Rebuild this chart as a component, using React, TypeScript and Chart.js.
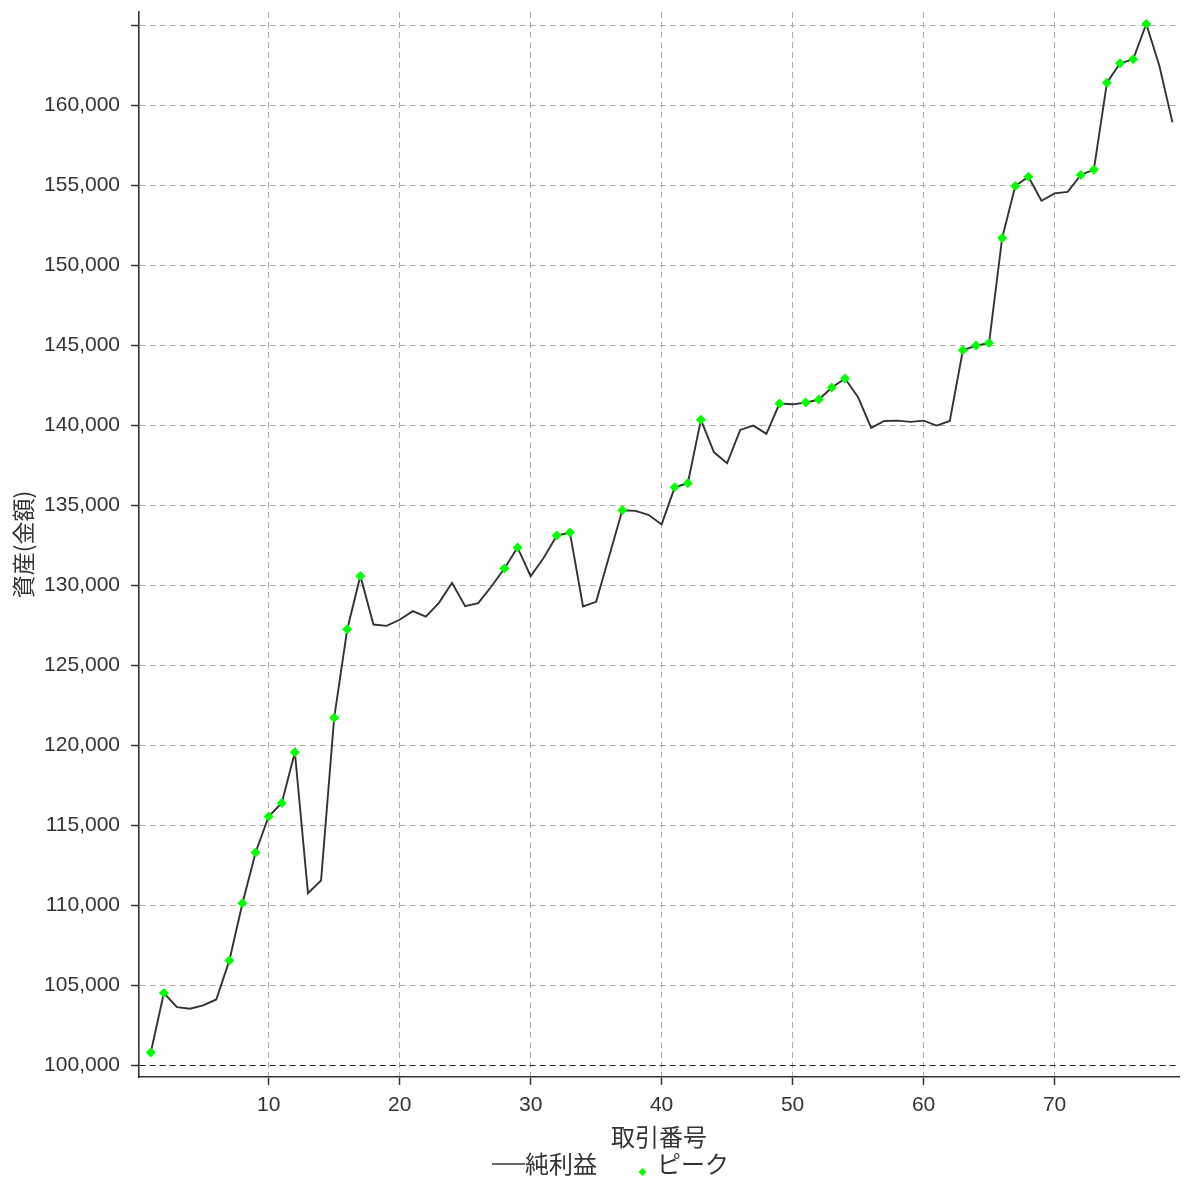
import React, { useEffect, useRef } from "react";
import { Chart, registerables } from "chart.js";

Chart.register(...registerables);

// ---- data ----
const tradeNumbers: number[] = Array.from({ length: 79 }, (_, i) => i + 1);
const netEquity: number[] = [
  100780, 104500, 103620, 103520, 103730, 104100, 106540, 110110, 113290, 115540,
  116380, 119560, 110750, 111540, 121710, 127250, 130580, 127540, 127460, 127840,
  128380, 128040, 128900, 130150, 128690, 128880, 129920, 131040, 132360, 130560,
  131710, 133100, 133290, 128670, 128960, 131830, 134690, 134650, 134400, 133800,
  136120, 136380, 140340, 138310, 137630, 139710, 139980, 139460, 141360, 141310,
  141420, 141610, 142360, 142920, 141750, 139840, 140270, 140290, 140210, 140290,
  139980, 140270, 144690, 144980, 145150, 151710, 154960, 155540, 154040, 154500,
  154590, 155650, 155980, 161420, 162630, 162880, 165090, 162480, 158940,
];
const peakTrades: number[] = [
  1, 2, 7, 8, 9, 10, 11, 12, 15, 16, 17, 28, 29, 32, 33, 37, 41, 42, 43, 49, 51,
  52, 53, 54, 63, 64, 65, 66, 67, 68, 72, 73, 74, 75, 76, 77,
];
const xTickValues: number[] = [10, 20, 30, 40, 50, 60, 70];
const yTickValues: number[] = [
  100000, 105000, 110000, 115000, 120000, 125000, 130000, 135000, 140000, 145000,
  150000, 155000, 160000, 165000,
];
const yTickLabelValues: number[] = [
  100000, 105000, 110000, 115000, 120000, 125000, 130000, 135000, 140000, 145000,
  150000, 155000, 160000,
];
const initialCapital = 100000;
const seriesLabels = ["純利益", "ピーク"];
const xTitle = "取引番号";
const yTitle = "資産(金額)";

const CJK = "'Noto Sans CJK JP', 'Noto Sans', sans-serif";
const LATIN = "'Liberation Sans', Arial, sans-serif";
const TEXT = "#333333";
const GRID = "#b3ad9f";

export default function App() {
  const ref = useRef<HTMLCanvasElement | null>(null);

  useEffect(() => {
    if (!ref.current) return;

    // legend icons
    const lineIcon = document.createElement("canvas");
    lineIcon.width = 72;
    lineIcon.height = 4;
    const lc = lineIcon.getContext("2d")!;
    lc.strokeStyle = "#333333";
    lc.lineWidth = 1.5;
    lc.beginPath();
    lc.moveTo(39, 2);
    lc.lineTo(72, 2);
    lc.stroke();

    const diaIcon = document.createElement("canvas");
    diaIcon.width = 52;
    diaIcon.height = 26;
    const dc = diaIcon.getContext("2d")!;
    dc.fillStyle = "#00ff00";
    const cx = 47.5, cy = 21, r = 4;
    dc.beginPath();
    dc.moveTo(cx, cy - r);
    dc.lineTo(cx + r, cy);
    dc.lineTo(cx, cy + r);
    dc.lineTo(cx - r, cy);
    dc.closePath();
    dc.fill();

    const lineData = tradeNumbers.map((t, i) => ({ x: t, y: netEquity[i] }));
    const peakData = peakTrades.map((t) => ({ x: t, y: netEquity[t - 1] }));

    const chart = new Chart(ref.current, {
      type: "line",
      data: {
        datasets: [
          {
            label: seriesLabels[0],
            data: lineData,
            borderColor: "#333333",
            borderWidth: 1.9,
            pointRadius: 0,
            tension: 0,
            fill: false,
            order: 1,
          },
          {
            label: seriesLabels[1],
            data: peakData,
            showLine: false,
            pointStyle: "rectRot",
            pointRadius: 5,
            pointBackgroundColor: "#00ff00",
            pointBorderWidth: 0,
            borderColor: "#00ff00",
            order: 0,
          },
        ],
      },
      options: {
        responsive: false,
        animation: false,
        devicePixelRatio: 1,
        layout: { padding: { top: 12, left: 10, right: 0, bottom: -6 } },
        plugins: {
          tooltip: { enabled: false },
          title: { display: false },
          legend: {
            position: "bottom",
            labels: {
              usePointStyle: true,
              pointStyleWidth: 48,
              padding: 0,
              color: TEXT,
              font: { family: CJK, size: 24 },
              generateLabels: () => [
                {
                  text: seriesLabels[0],
                  pointStyle: lineIcon as any,
                  fillStyle: "#333333",
                  strokeStyle: "#333333",
                  lineWidth: 0,
                  hidden: false,
                  datasetIndex: 0,
                  fontColor: TEXT,
                },
                {
                  text: seriesLabels[1],
                  pointStyle: diaIcon as any,
                  fillStyle: "#00ff00",
                  strokeStyle: "#00ff00",
                  lineWidth: 0,
                  hidden: false,
                  datasetIndex: 1,
                  fontColor: TEXT,
                },
              ],
            },
          },
        },
        scales: {
          x: {
            type: "linear",
            min: 0.1,
            max: 79.5,
            ticks: {
              color: TEXT,
              padding: 8,
              font: { family: LATIN, size: 21 },
              maxRotation: 0,
            },
            grid: {
              color: GRID,
              lineWidth: 1,
              drawTicks: true,
              tickLength: 8,
              tickColor: "#333333",
              tickWidth: 1.5,
            },
            border: { display: true, color: "#333333", width: 1.6, dash: [6, 4] },
            title: {
              display: true,
              text: xTitle,
              color: TEXT,
              font: { family: CJK, size: 24, lineHeight: 1 },
              padding: { top: 0, bottom: 3 },
            },
            afterBuildTicks: (s: any) => {
              s.ticks = xTickValues.map((v) => ({ value: v }));
            },
            afterFit: (s: any) => {
              s.height = 75;
              s.paddingLeft = 0;
              s.paddingRight = 0;
            },
          },
          y: {
            type: "linear",
            min: 99250,
            max: 165840,
            ticks: {
              color: TEXT,
              padding: 11,
              font: { family: LATIN, size: 21 },
              callback: (v: any) =>
                yTickLabelValues.includes(Number(v)) ? Number(v).toLocaleString("en-US") : "",
            },
            grid: {
              color: (c: any) => (c.tick && c.tick.value === initialCapital ? "#222222" : GRID),
              lineWidth: 1,
              drawTicks: true,
              tickLength: 8,
              tickColor: "#333333",
              tickWidth: 1.5,
            },
            border: { display: true, color: "#333333", width: 1.6, dash: [6, 4] },
            title: {
              display: true,
              text: yTitle,
              color: TEXT,
              font: { family: CJK, size: 23, lineHeight: 1 },
              padding: { top: 2, bottom: 0 },
            },
            afterBuildTicks: (s: any) => {
              s.ticks = yTickValues.map((v) => ({ value: v }));
            },
            afterFit: (s: any) => {
              s.width = 129;
              s.paddingTop = 0;
              s.paddingBottom = 0;
            },
          },
        },
      },
    });

    return () => chart.destroy();
  }, []);

  return (
    <div style={{ position: "absolute", left: 0, top: 0, width: 1184, height: 1180, background: "#fff" }}>
      <canvas ref={ref} width={1184} height={1180} style={{ display: "block" }} />
    </div>
  );
}
